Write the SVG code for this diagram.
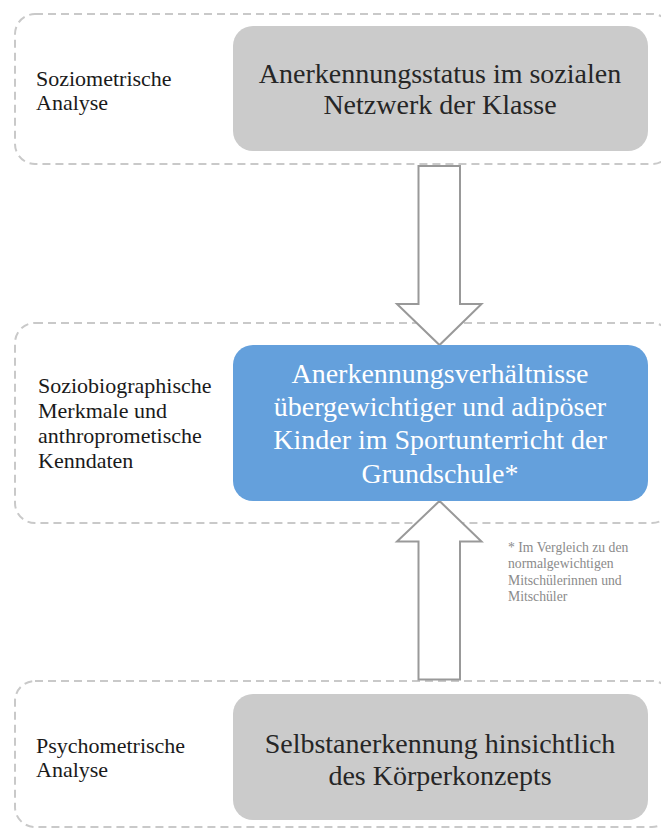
<svg xmlns="http://www.w3.org/2000/svg" width="661" height="830" viewBox="0 0 661 830">
<style>
.cont{fill:none;stroke:#c9c9c9;stroke-width:2;stroke-dasharray:8 5}
.grey{fill:#cbcbcb}
.blue{fill:#64a0dc}
.big{font-family:"Liberation Serif","Times New Roman",serif;font-size:28px;text-anchor:middle;fill:#262626}
.bigw{font-family:"Liberation Serif","Times New Roman",serif;font-size:28px;text-anchor:middle;fill:#ffffff}
.lab{font-family:"Liberation Serif","Times New Roman",serif;font-size:22px;fill:#1a1a1a}
.note{font-family:"Liberation Serif","Times New Roman",serif;font-size:13.7px;fill:#8a8a8a}
.arr{fill:#ffffff;stroke:#999999;stroke-width:2}
</style>
<rect width="661" height="830" fill="#ffffff"/>
<g id="container1">
<rect class="cont" x="15" y="14" width="657" height="150" rx="20"/>
<text class="lab" x="36" y="86">Soziometrische</text>
<text class="lab" x="36" y="110">Analyse</text>
</g>
<g id="container2">
<rect class="cont" x="15" y="323" width="657" height="200" rx="20"/>
<text class="lab" x="38" y="393">Soziobiographische</text>
<text class="lab" x="38" y="418">Merkmale und</text>
<text class="lab" x="38" y="443">anthroprometische</text>
<text class="lab" x="38" y="468">Kenndaten</text>
</g>
<g id="container3">
<rect class="cont" x="15" y="681" width="657" height="146" rx="20"/>
<text class="lab" x="36" y="753">Psychometrische</text>
<text class="lab" x="36" y="777">Analyse</text>
</g>
<g id="connectors">
<path class="arr" d="M418.5,166 L460,166 L460,304 L481.5,304 L439.5,345 L397,304 L418.5,304 Z"/>
<path class="arr" d="M418.5,679.5 L460,679.5 L460,541.5 L481.5,541.5 L439.5,501 L397,541.5 L418.5,541.5 Z"/>
</g>
<g id="node-top">
<rect class="grey" x="233" y="26" width="415" height="125" rx="20"/>
<text class="big" x="440" y="83">Anerkennungsstatus im sozialen</text>
<text class="big" x="440" y="114">Netzwerk der Klasse</text>
</g>
<g id="node-center">
<rect class="blue" x="233" y="345" width="415" height="156" rx="20"/>
<text class="bigw" x="440" y="383">Anerkennungsverhältnisse</text>
<text class="bigw" x="440" y="416">übergewichtiger und adipöser</text>
<text class="bigw" x="440" y="449">Kinder im Sportunterricht der</text>
<text class="bigw" x="440" y="483">Grundschule*</text>
</g>
<g id="node-bottom">
<rect class="grey" x="233" y="694" width="415" height="126" rx="20"/>
<text class="big" x="440" y="753">Selbstanerkennung hinsichtlich</text>
<text class="big" x="440" y="785">des Körperkonzepts</text>
</g>
<g id="footnote">
<text class="note" x="508" y="552">* Im Vergleich zu den</text>
<text class="note" x="508" y="568">normalgewichtigen</text>
<text class="note" x="508" y="584.5">Mitschülerinnen und</text>
<text class="note" x="508" y="600.5">Mitschüler</text>
</g>
</svg>
